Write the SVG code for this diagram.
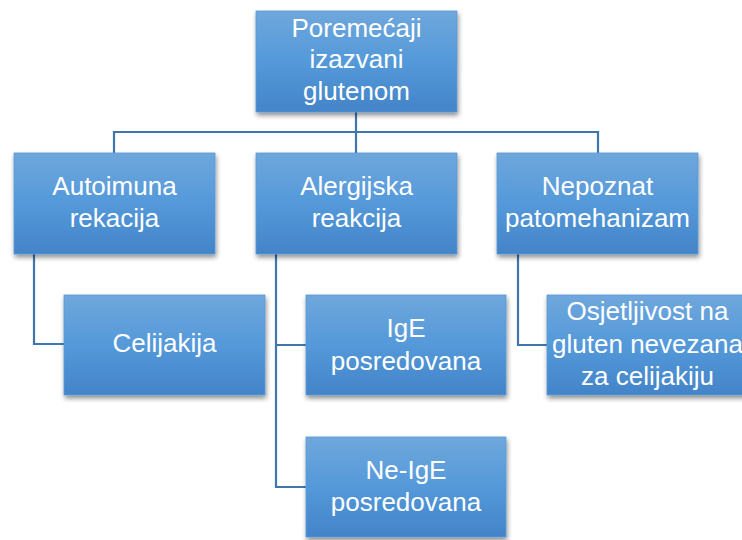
<svg xmlns="http://www.w3.org/2000/svg" width="742" height="540" viewBox="0 0 742 540">
<defs>
<linearGradient id="g" x1="0" y1="0" x2="0" y2="1">
<stop offset="0" stop-color="#6fa7dc"/>
<stop offset="0.5" stop-color="#5499da"/>
<stop offset="1" stop-color="#4384c8"/>
</linearGradient>
<filter id="sh" x="-10%" y="-10%" width="125%" height="130%">
<feGaussianBlur in="SourceAlpha" stdDeviation="2.5"/>
<feOffset dx="1" dy="3" result="b"/>
<feComponentTransfer><feFuncA type="linear" slope="0.45"/></feComponentTransfer>
<feMerge><feMergeNode/><feMergeNode in="SourceGraphic"/></feMerge>
</filter>
</defs>
<style>
.box{fill:url(#g);stroke:#5a9ad6;stroke-width:0.8;filter:url(#sh)}
.t{font-family:"Liberation Sans",Arial,sans-serif;font-size:26px;fill:#ffffff;text-anchor:middle}
.c{fill:none;stroke:#3f76b0;stroke-width:2.2}
</style>
<rect width="742" height="540" fill="#ffffff"/>
<g id="connectors">
<path class="c" d="M356,112 V132 M114,153 V132 H598 V153 M356,132 V153"/>
<path class="c" d="M34,254 V344 H64"/>
<path class="c" d="M276,254 V487 H306 M276,345 H306"/>
<path class="c" d="M518,254 V345 H547"/>
</g>
<g id="n-root">
<rect class="box" x="256" y="11" width="201" height="101"/>
<text class="t" x="356.5" y="37">Poremećaji</text>
<text class="t" x="356.5" y="68">izazvani</text>
<text class="t" x="356.5" y="100">glutenom</text>
</g>
<g id="n-autoimuna">
<rect class="box" x="14" y="153" width="201" height="101"/>
<text class="t" x="114.5" y="195">Autoimuna</text>
<text class="t" x="114.5" y="227">rekacija</text>
</g>
<g id="n-alergijska">
<rect class="box" x="256" y="153" width="201" height="101"/>
<text class="t" x="356.5" y="195">Alergijska</text>
<text class="t" x="356.5" y="227">reakcija</text>
</g>
<g id="n-nepoznat">
<rect class="box" x="497" y="153" width="201" height="101"/>
<text class="t" x="597.5" y="195">Nepoznat</text>
<text class="t" x="597.5" y="227">patomehanizam</text>
</g>
<g id="n-celijakija">
<rect class="box" x="64" y="295" width="201" height="100"/>
<text class="t" x="164.5" y="352">Celijakija</text>
</g>
<g id="n-ige">
<rect class="box" x="306" y="295" width="200" height="100"/>
<text class="t" x="406" y="337">IgE</text>
<text class="t" x="406" y="370">posredovana</text>
</g>
<g id="n-neige">
<rect class="box" x="306" y="437" width="200" height="100"/>
<text class="t" x="406" y="479">Ne-IgE</text>
<text class="t" x="406" y="511">posredovana</text>
</g>
<g id="n-osjetljivost">
<rect class="box" x="547" y="295" width="201" height="100"/>
<text class="t" x="647.5" y="320">Osjetljivost na</text>
<text class="t" x="647.5" y="353">gluten nevezana</text>
<text class="t" x="647.5" y="385">za celijakiju</text>
</g>
</svg>
